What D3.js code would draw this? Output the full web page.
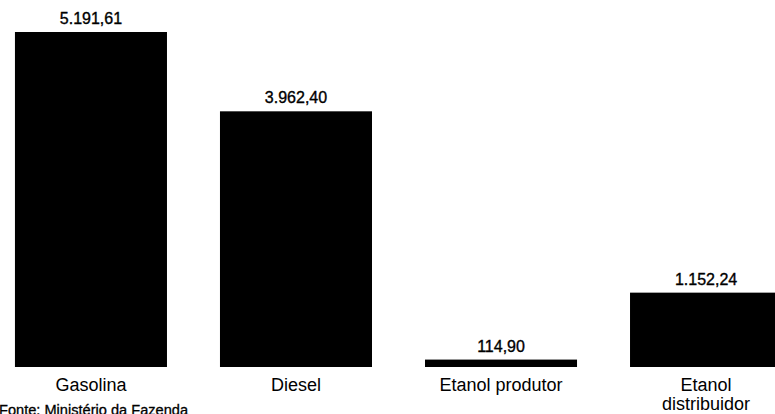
<!DOCTYPE html>
<html>
<head>
<meta charset="utf-8">
<script src="https://cdn.jsdelivr.net/npm/d3@7"></script>
<style>
  html, body { margin: 0; padding: 0; background: #fff; }
  svg { display: block; font-family: Arial, 'Liberation Sans', sans-serif; }
</style>
</head>
<body>
<div id="vis"></div>
<script>
var categories = ['Gasolina', 'Diesel', 'Etanol produtor', 'Etanol distribuidor'];
var categoryLines = [['Gasolina'], ['Diesel'], ['Etanol produtor'], ['Etanol', 'distribuidor']];
var values = [5191.61, 3962.40, 114.90, 1152.24];
var valueLabels = ['5.191,61', '3.962,40', '114,90', '1.152,24'];
var sourceNote = 'Fonte: Ministério da Fazenda';

var prefs = {
  width: 775,
  height: 414,
  baseline: 367,
  top: 32,
  valueGap: 8,
  labelY: 391,
  labelLineHeight: 19
};

var data = categories.map(function(c, i) {
  return { name: c, lines: categoryLines[i], value: values[i], label: valueLabels[i] };
});

var svg = d3.select('#vis').append('svg')
  .attr('width', prefs.width)
  .attr('height', prefs.height);

var x = d3.scaleBand()
  .domain(categories)
  .range([-11.5, 808.5])
  .paddingInner(0.2585)
  .paddingOuter(0.129);

var y = d3.scaleLinear()
  .domain([0, d3.max(values)])
  .range([prefs.baseline, prefs.top]);

/* Bars */
svg.selectAll('.bar')
  .data(data)
  .enter().append('rect')
    .classed('bar', true)
    .attr('x', function(d) { return x(d.name); })
    .attr('y', function(d) { return y(d.value); })
    .attr('width', x.bandwidth())
    .attr('height', function(d) { return y(0) - y(d.value); })
    .attr('fill', '#000');

/* Value labels (scanned original looks a bit heavy) */
svg.selectAll('.value')
  .data(data)
  .enter().append('text')
    .classed('value', true)
    .attr('x', function(d) { return x(d.name) + x.bandwidth() / 2; })
    .attr('y', function(d) { return y(d.value) - prefs.valueGap; })
    .attr('text-anchor', 'middle')
    .attr('font-size', 16)
    .attr('fill', '#000')
    .attr('stroke', '#000')
    .attr('stroke-width', 0.35)
    .text(function(d) { return d.label; });

/* Category labels */
var cats = svg.selectAll('.category')
  .data(data)
  .enter().append('text')
    .classed('category', true)
    .attr('text-anchor', 'middle')
    .attr('font-size', 18)
    .attr('fill', '#000');

cats.selectAll('tspan')
  .data(function(d) {
    return d.lines.map(function(l) { return { text: l, name: d.name }; });
  })
  .enter().append('tspan')
    .attr('x', function(d) { return x(d.name) + x.bandwidth() / 2; })
    .attr('y', function(d, i) { return prefs.labelY + i * prefs.labelLineHeight; })
    .text(function(d) { return d.text; });

/* Source */
svg.append('text')
  .attr('x', -1)
  .attr('y', 415)
  .attr('font-size', 14.6)
  .attr('fill', '#000')
  .attr('stroke', '#000')
  .attr('stroke-width', 0.3)
  .text(sourceNote);
</script>
</body>
</html>
